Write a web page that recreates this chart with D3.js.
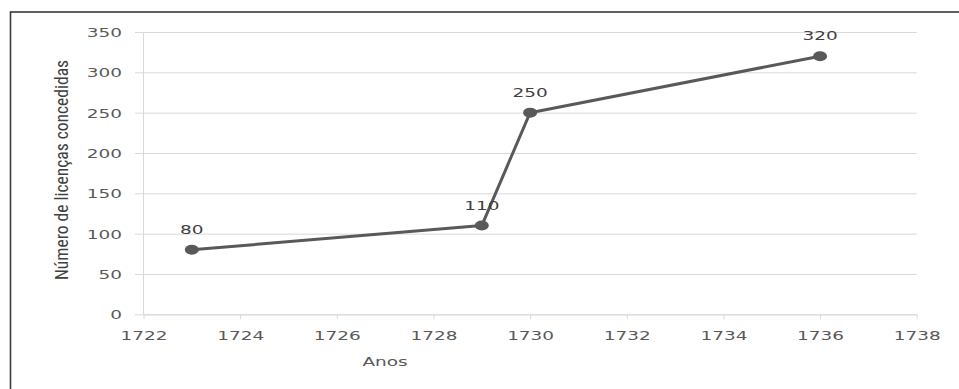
<!DOCTYPE html>
<html>
<head>
<meta charset="utf-8">
<script src="https://cdn.jsdelivr.net/npm/d3@7"></script>
<style>
  html, body { margin: 0; padding: 0; background: #fff; }
  svg { display: block; }
</style>
</head>
<body>
<svg id="chart" width="959" height="389"></svg>
<script>
// Licences granted per year
const years = [1723, 1729, 1730, 1736];
const licences = [80, 110, 250, 320];
const xTicks = [1722, 1724, 1726, 1728, 1730, 1732, 1734, 1736, 1738];
const yTicks = [0, 50, 100, 150, 200, 250, 300, 350];
const xTitle = "Anos";
const yTitle = "Número de licenças concedidas";

const W = 959, H = 389;
const SX = 1.42; // horizontal widening of the digit glyphs
const svg = d3.select("#chart");

// frame
svg.append("rect")
  .attr("x", 10.5).attr("y", 12)
  .attr("width", 1000).attr("height", 420)
  .attr("fill", "none").attr("stroke", "#3a3a3a").attr("stroke-width", 1.6);

const x = d3.scaleLinear().domain([1722, 1738]).range([143.5, 916.7]);
const y = d3.scaleLinear().domain([0, 350]).range([314.3, 32]);

const numFont = "'DejaVu Sans', Verdana, sans-serif";

// horizontal gridlines with outer ticks
const yAxis = svg.append("g")
  .attr("transform", `translate(${x.range()[0]},0)`)
  .call(d3.axisLeft(y).tickValues(yTicks)
    .tickSize(-(x.range()[1] - x.range()[0])).tickSizeOuter(0).tickPadding(0));
yAxis.select(".domain").remove();
yAxis.selectAll(".tick line")
  .attr("x1", -8.5)
  .attr("stroke", "#d9d9d9").attr("stroke-width", 1);
yAxis.selectAll(".tick text")
  .attr("x", null).attr("dy", null)
  .attr("transform", `translate(-21.5,4.6) scale(${SX},1)`)
  .attr("text-anchor", "end")
  .attr("fill", "#595959")
  .style("font-family", numFont).style("font-size", "13px");

// vertical axis line
svg.append("line")
  .attr("x1", x.range()[0]).attr("x2", x.range()[0])
  .attr("y1", y(350)).attr("y2", y(0))
  .attr("stroke", "#d9d9d9").attr("stroke-width", 1);

// bottom axis
const xAxis = svg.append("g")
  .attr("transform", `translate(0,${y(0)})`)
  .call(d3.axisBottom(x).tickValues(xTicks).tickFormat(d3.format("d"))
    .tickSize(5).tickSizeOuter(0));
xAxis.select(".domain").attr("stroke", "#d9d9d9");
xAxis.selectAll(".tick line").attr("stroke", "#d9d9d9");
xAxis.selectAll(".tick text")
  .attr("y", null).attr("dy", null)
  .attr("transform", `translate(0,25.7) scale(${SX},1)`)
  .attr("fill", "#595959")
  .style("font-family", numFont).style("font-size", "13px");

// axis titles
svg.append("text")
  .attr("transform", `translate(385,366) scale(${SX},1)`)
  .attr("text-anchor", "middle")
  .attr("fill", "#595959")
  .style("font-family", numFont).style("font-size", "13px")
  .text(xTitle);

svg.append("text")
  .attr("transform", "translate(68,170) rotate(-90)")
  .attr("text-anchor", "middle")
  .attr("textLength", 220).attr("lengthAdjust", "spacingAndGlyphs")
  .attr("fill", "#404040")
  .style("font-family", "'Liberation Sans Narrow', 'Roboto Condensed', 'Liberation Sans', sans-serif")
  .style("font-size", "18.5px")
  .text(yTitle);

// series
const pts = years.map((yr, i) => ({ yr, v: licences[i] }));
const line = d3.line().x(d => x(d.yr)).y(d => y(d.v));

svg.append("path")
  .datum(pts)
  .attr("d", line)
  .attr("fill", "none")
  .attr("stroke", "#595959").attr("stroke-width", 3)
  .attr("stroke-linejoin", "round");

svg.selectAll(".marker")
  .data(pts).join("ellipse")
  .attr("class", "marker")
  .attr("cx", d => x(d.yr)).attr("cy", d => y(d.v))
  .attr("rx", 7).attr("ry", 5)
  .attr("fill", "#595959");

svg.selectAll(".vlabel")
  .data(pts).join("text")
  .attr("class", "vlabel")
  .attr("transform", d => `translate(${x(d.yr)},${y(d.v) - 16}) scale(${SX},1)`)
  .attr("text-anchor", "middle")
  .attr("fill", "#404040")
  .style("font-family", numFont).style("font-size", "13px")
  .text(d => d.v);
</script>
</body>
</html>
